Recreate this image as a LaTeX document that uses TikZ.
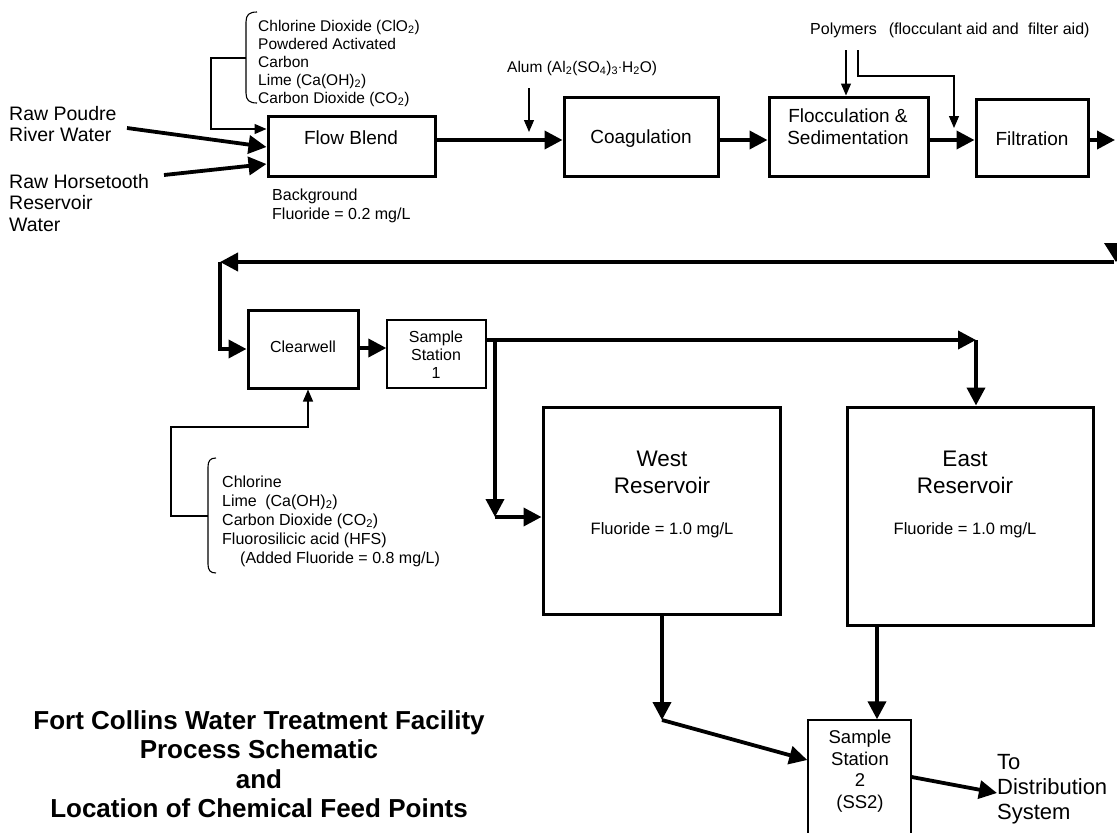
\documentclass[tikz,border=0pt]{standalone}
\usepackage{fontspec}
\setmainfont{Liberation Sans}
\usetikzlibrary{arrows.meta}
\begin{document}
\begin{tikzpicture}[x=1pt,y=-1pt,
  bigbox/.style={draw,line width=3pt,inner sep=0pt},
  thinbox/.style={draw,line width=1.4pt,inner sep=0pt},
  flowarrow/.style={line width=3.8pt,-{Triangle[length=18pt,width=18pt]}},
  feedarrow/.style={line width=1.2pt,-{Triangle[length=12pt,width=10pt]}},
  feedline/.style={line width=1.1pt},
  tA/.style={inner sep=0pt,align=center,font=\fontsize{19}{22}\selectfont},
  tB/.style={inner sep=0pt,align=center,font=\fontsize{16}{18}\selectfont},
  tC/.style={inner sep=0pt,align=center,font=\fontsize{22.5}{27}\selectfont},
  tD/.style={inner sep=0pt,align=center,font=\fontsize{18.5}{21.5}\selectfont},
  tE/.style={inner sep=0pt,align=left,anchor=west,font=\fontsize{15.5}{18}\selectfont},
  tF/.style={inner sep=0pt,align=left,anchor=west,font=\fontsize{19.5}{21.5}\selectfont},
  tG/.style={inner sep=0pt,align=left,anchor=west,font=\fontsize{22}{25}\selectfont},
  tH/.style={inner sep=0pt,align=left,anchor=west,font=\fontsize{16}{19}\selectfont},
  titlestyle/.style={inner sep=0pt,align=center,font=\bfseries\fontsize{26}{29.5}\selectfont}
]
\path[use as bounding box] (0,0) rectangle (1117,833);
\clip (0,0) rectangle (1117,833);

% ---- boxes ----
\node[bigbox,minimum width=167pt,minimum height=60pt] (fb) at (351.5,146) {};
\node[bigbox,minimum width=154pt,minimum height=79pt] (coag) at (641,136.5) {};
\node[bigbox,minimum width=159pt,minimum height=79pt] (floc) at (848.5,136.5) {};
\node[bigbox,minimum width=112pt,minimum height=77pt] (filt) at (1032,137.5) {};
\node[bigbox,minimum width=110pt,minimum height=78pt] (cw) at (303,349) {};
\node[thinbox,minimum width=99pt,minimum height=68pt] (ss1) at (436.5,354) {};
\node[bigbox,minimum width=237pt,minimum height=207pt] (west) at (661.5,510.5) {};
\node[bigbox,minimum width=246pt,minimum height=218pt] (east) at (970,516) {};
\node[thinbox,minimum width=103pt,minimum height=124pt] (ss2) at (859.5,782) {};

% ---- box texts ----
\node[tA] (fbt) at (351,138) {Flow Blend};
\node[tA] (coagt) at (641,139) {Coagulation};
\node[tA] (floct) at (848,127) {Flocculation \&\\Sedimentation};
\node[tA] (filtt) at (1032,139) {Filtration};
\node[tB] (cwt) at (303,347) {Clearwell};
\node[tB] (ss1t) at (436,355) {Sample\\Station\\1};
\node[tC] (westt) at (662,472) {West\\Reservoir};
\node[tB,font=\fontsize{16.5}{18}\selectfont] (westf) at (662,530) {Fluoride = 1.0 mg/L};
\node[tC] (eastt) at (965,472) {East\\Reservoir};
\node[tB,font=\fontsize{16.5}{18}\selectfont] (eastf) at (965,530) {Fluoride = 1.0 mg/L};
\node[tD] (ss2t) at (860,771) {Sample\\Station\\2\\(SS2)};

% ---- free texts ----
\node[tF] (poudre) at (9,124) {Raw Poudre\\River Water};
\node[tF] (horse) at (9,203) {Raw Horsetooth\\Reservoir\\Water};
\node[tE] (chem1) at (258,63) {Chlorine Dioxide (ClO\textsubscript{2})\\Powdered Activated\\Carbon\\Lime (Ca(OH)\textsubscript{2})\\Carbon Dioxide (CO\textsubscript{2})};
\node[tH] (bg) at (272,206) {Background\\Fluoride = 0.2 mg/L};
\node[tE] (alum) at (507,68) {Alum (Al\textsubscript{2}(SO\textsubscript{4})\textsubscript{3}{\raisebox{1pt}{$\cdot$}}H\textsubscript{2}O)};
\node[tE,font=\fontsize{16}{18}\selectfont] (poly) at (810,30) {Polymers\hspace{12pt}(flocculant aid and\hspace{5pt} filter aid)};
\node[tH] (chem2) at (222,521) {Chlorine\\Lime\hspace{4pt} (Ca(OH)\textsubscript{2})\\Carbon Dioxide (CO\textsubscript{2})\\Fluorosilicic acid (HFS)\\\hspace*{18pt}(Added Fluoride = 0.8 mg/L)};
\node[tG] (dist) at (997,789) {To\\Distribution\\System};
\node[titlestyle] (title) at (259,764) {Fort Collins Water Treatment Facility\\Process Schematic\\and\\Location of Chemical Feed Points};

% ---- braces ----
\draw[feedline] (257,12) .. controls (249,12) and (246,15) .. (246,22) -- (246,93) .. controls (246,100) and (249,103) .. (257,103);
\draw[feedline] (216,458) .. controls (210,458) and (208,461) .. (208,467) -- (208,564) .. controls (208,570) and (210,573) .. (216,573);

% ---- named free ends ----
\coordinate (poudreS) at (127,128);
\coordinate (horseS) at (164,175);
\coordinate (brace1) at (246,58);
\coordinate (brace2) at (208,516);
\coordinate (alumS) at (529,88);
\coordinate (polyA) at (846,50);
\coordinate (polyB) at (858,50);
\coordinate (retS) at (1114,262);
\coordinate (retC) at (220,262);
\coordinate (outE) at (1115,140);
\coordinate (eastC) at (976,340);
\coordinate (westC) at (495,517);
\coordinate (ss2C) at (662,720);

% ---- thick flow connectors ----
\draw[flowarrow] (poudreS) -- (fb.west |- 0,147);
\draw[flowarrow] (horseS) -- (fb.west |- 0,164);
\draw[flowarrow] (fb.east |- 0,140) -- (coag.west |- 0,140);
\draw[flowarrow] (coag.east |- 0,140) -- (floc.west |- 0,140);
\draw[flowarrow] (floc.east |- 0,140) -- (filt.west |- 0,140);
\draw[flowarrow] (filt.east |- 0,140) -- (outE);
\fill (1104,243) -- (1128,243) -- (1116,262) -- cycle;
\draw[flowarrow] (retS) -- (retC);
\draw[flowarrow] (retC) -- (220,349) -- (cw.west |- 0,349);
\draw[flowarrow] (cw.east |- 0,348) -- (ss1.west |- 0,348);
\draw[flowarrow] (ss1.east |- 0,340) -- (eastC);
\draw[flowarrow] (eastC) -- (east.north -| 976,0);
\draw[flowarrow] (495,340) -- (westC);
\draw[flowarrow] (westC) -- (west.west |- 0,517);
\draw[flowarrow] (west.south -| 662,0) -- (ss2C);
\draw[flowarrow] (ss2C) -- (ss2.west |- 0,760);
\draw[flowarrow] (east.south -| 877,0) -- (ss2.north -| 877,0);
\draw[flowarrow] (ss2.east |- 0,777) -- (dist.west |- 0,793);

% ---- thin feed connectors ----
\draw[feedarrow] (brace1) -- (211,58) -- (211,129) -- (fb.west |- 0,129);
\draw[feedarrow] (alumS) -- (529,132);
\draw[feedarrow] (polyA) -- (floc.north -| 846,0);
\draw[feedarrow] (polyB) -- (858,76) -- (954,76) -- (954,128);
\draw[feedarrow] (brace2) -- (171,516) -- (171,427) -- (308,427) -- (cw.south -| 308,0);
\end{tikzpicture}
\end{document}
